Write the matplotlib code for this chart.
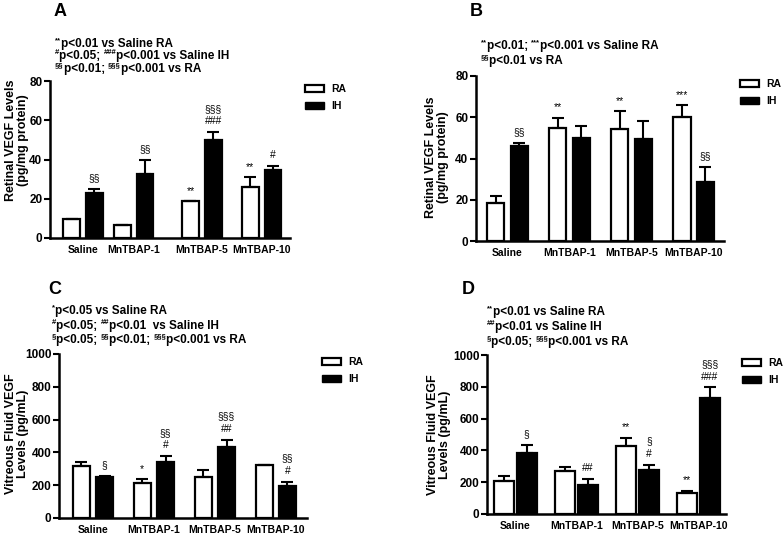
"""Retinal and vitreous VEGF levels, RA vs IH, with MnTBAP doses (4 panels)."""

import re
import matplotlib
matplotlib.use('Agg')
import matplotlib.pyplot as plt
from matplotlib.patches import Patch

plt.rcParams['font.family'] = ['Liberation Sans', 'DejaVu Sans']
plt.rcParams['font.weight'] = 'bold'

groups = ['Saline', 'MnTBAP-1', 'MnTBAP-5', 'MnTBAP-10']

# panel A: retinal VEGF (pg/mg protein)
a_ra = [9.5, 6.5, 18.7, 26.2]
a_ra_err = [0, 0, 0, 4.8]
a_ih = [23, 32.5, 50, 34.5]
a_ih_err = [2, 7.5, 4, 2.3]
a_ra_marks = ['', '', '**', '**']
a_ih_marks = ['§§', '§§', '§§§\n###', '#']

# panel B: retinal VEGF (pg/mg protein)
b_ra = [18.2, 54.8, 54.4, 60]
b_ra_err = [3.8, 5, 8.5, 5.8]
b_ih = [46.3, 50, 49.5, 28.5]
b_ih_err = [1.3, 5.8, 8.9, 7.3]
b_ra_marks = ['', '**', '**', '***']
b_ih_marks = ['§§', '', '', '§§']

# panel C: vitreous fluid VEGF (pg/mL)
c_ra = [316, 212, 251, 322]
c_ra_err = [25, 23, 41, 0]
c_ih = [249, 341, 435, 198]
c_ih_err = [8, 37, 41, 22]
c_ra_marks = ['', '*', '', '']
c_ih_marks = ['§', '§§\n#', '§§§\n##', '§§\n#']

# panel D: vitreous fluid VEGF (pg/mL)
d_ra = [209, 270, 425, 134]
d_ra_err = [27, 27, 56, 12]
d_ih = [385, 184, 278, 732]
d_ih_err = [52, 36, 32, 65]
d_ra_marks = ['', '', '**', '**']
d_ih_marks = ['§', '##', '§\n#', '§§§\n###']

retina_label = 'Retinal VEGF Levels\n(pg/mg protein)'
vitreous_label = 'Vitreous Fluid VEGF\nLevels (pg/mL)'

a_notes = ['^{**}p<0.01 vs Saline RA',
           '^{#}p<0.05; ^{###}p<0.001 vs Saline IH',
           '^{§§}p<0.01; ^{§§§}p<0.001 vs RA']
b_notes = ['^{**}p<0.01; ^{***}p<0.001 vs Saline RA',
           '^{§§}p<0.01 vs RA']
c_notes = ['^{*}p<0.05 vs Saline RA',
           '^{#}p<0.05; ^{##}p<0.01  vs Saline IH',
           '^{§}p<0.05; ^{§§}p<0.01; ^{§§§}p<0.001 vs RA']
d_notes = ['^{**}p<0.01 vs Saline RA',
           '^{##}p<0.01 vs Saline IH',
           '^{§}p<0.05; ^{§§§}p<0.001 vs RA']

W, H = 784, 534
fig = plt.figure(figsize=(W / 100, H / 100), dpi=100)


def px_rect(left, right, bottom, top):
    return [left / W, 1 - bottom / H, (right - left) / W, (bottom - top) / H]


def rich_line(x, y, s, size=8.5):
    """Write a line with ^{...} superscripts at pixel position (x, y)."""
    r = fig.canvas.get_renderer()
    parts = re.split(r'\^\{(.*?)\}', s)
    xf = x / W
    for i, p in enumerate(parts):
        if not p:
            continue
        sup = i % 2 == 1
        t = fig.text(xf, 1 - y / H + (3.5 / H if sup else 0), p,
                     fontsize=size * 0.65 if sup else size, weight='bold',
                     va='center', ha='left')
        xf += t.get_window_extent(r).width / W


def panel(rect, pos, xlim, width, off, ra, ra_err, ih, ih_err, ra_marks, ih_marks,
          ymax, step):
    ax = fig.add_axes(rect)
    ra_x = [p - off for p in pos]
    ih_x = [p + off for p in pos]
    ax.bar(ra_x, ra, width, color='white', edgecolor='black', linewidth=1.6,
           yerr=[[0] * 4, ra_err], error_kw=dict(elinewidth=1.5, capsize=4, capthick=1.5))
    ax.bar(ih_x, ih, width, color='black', edgecolor='black', linewidth=1.6,
           yerr=[[0] * 4, ih_err], error_kw=dict(elinewidth=1.5, capsize=4, capthick=1.5))
    for xs, vals, errs, marks in ((ra_x, ra, ra_err, ra_marks), (ih_x, ih, ih_err, ih_marks)):
        for x, v, e, m in zip(xs, vals, errs, marks):
            if m:
                ax.annotate(m, (x, v + e), xytext=(0, 4), textcoords='offset points',
                            ha='center', va='bottom', fontsize=7.5, weight='normal',
                            linespacing=1.35)
    ax.set_xlim(*xlim)
    ax.set_ylim(0, ymax)
    ax.set_yticks(range(0, ymax + 1, step))
    ax.set_xticks(pos)
    ax.set_xticklabels(groups, fontsize=7.5, weight='bold')
    ax.tick_params(axis='x', length=0, pad=5)
    ax.tick_params(axis='y', labelsize=8.5, width=1.5, length=4, pad=1.5)
    for lab in ax.get_yticklabels():
        lab.set_fontweight('bold')
    ax.spines[['top', 'right']].set_visible(False)
    ax.spines[['left', 'bottom']].set_linewidth(1.8)
    return ax


def ylabel(x, y, s):
    fig.text(x / W, 1 - y / H, s, rotation=90, ha='center', va='center',
             multialignment='center', fontsize=9, weight='bold', linespacing=1.1)


def legend(x, y):
    handles = [Patch(facecolor='white', edgecolor='black', linewidth=1.6, label='RA'),
               Patch(facecolor='black', edgecolor='black', label='IH')]
    fig.legend(handles=handles, loc='upper left', bbox_to_anchor=(x / W, 1 - y / H),
               frameon=False, prop=dict(weight='bold', size=7.5),
               handlelength=1.8, handleheight=0.65, labelspacing=0.65,
               borderpad=0, borderaxespad=0, handletextpad=0.7)


even = [0, 1, 2, 3]

panel(px_rect(50, 290, 238, 81), [0, 0.85, 1.99, 2.99], (-0.553, 3.467), 0.28, 0.19,
      a_ra, a_ra_err, a_ih, a_ih_err, a_ra_marks, a_ih_marks, 80, 20)
panel(px_rect(476, 724, 241, 76), even, (-0.508, 3.49), 0.28, 0.19,
      b_ra, b_ra_err, b_ih, b_ih_err, b_ra_marks, b_ih_marks, 80, 20)
panel(px_rect(59, 307, 518, 354), even, (-0.557, 3.51), 0.27, 0.19,
      c_ra, c_ra_err, c_ih, c_ih_err, c_ra_marks, c_ih_marks, 1000, 200)
panel(px_rect(487, 726, 514, 355), even, (-0.467, 3.45), 0.33, 0.185,
      d_ra, d_ra_err, d_ih, d_ih_err, d_ra_marks, d_ih_marks, 1000, 200)

ylabel(17, 140, retina_label)
ylabel(437, 157, retina_label)
ylabel(17, 434, vitreous_label)
ylabel(439, 435, vitreous_label)

legend(305, 84)
legend(740, 79)
legend(322, 357)
legend(742, 358)

for letter, x, y in (('A', 54, 12), ('B', 470, 12), ('C', 48, 289), ('D', 462, 289)):
    fig.text(x / W, 1 - y / H, letter, fontsize=13, weight='bold', va='center')

for notes, x, y0, dy in ((a_notes, 55, 44, 12.5), (b_notes, 481, 46, 15),
                         (c_notes, 52, 311, 14.5), (d_notes, 487, 312, 15)):
    for i, s in enumerate(notes):
        rich_line(x, y0 + i * dy, s)

fig.savefig('out.png', dpi=100)
